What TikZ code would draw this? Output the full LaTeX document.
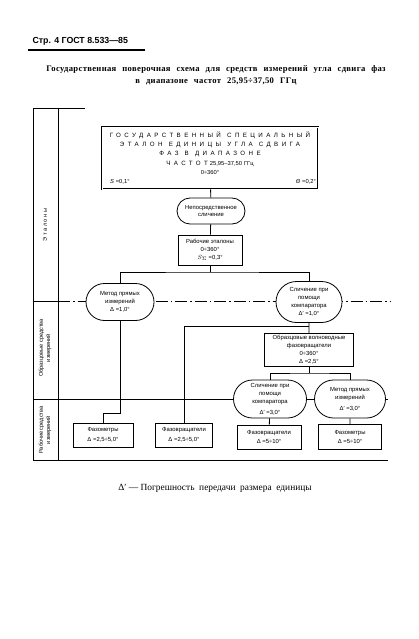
\documentclass[tikz,border=0pt]{standalone}
\usepackage{fontspec}
\setmainfont{Liberation Serif}
\setsansfont{Liberation Sans}
\newfontfamily\spaced[LetterSpace=55]{Liberation Sans}
\newfontfamily\titlefont[LetterSpace=4, WordSpace=2.4]{Liberation Serif}
\usetikzlibrary{shapes.misc}

\tikzset{
  etalon/.style={draw, double, double distance=0.8pt, thick, fill=white, align=center,
    text width=212pt, minimum height=62pt, inner sep=2pt,
    font=\sffamily\fontsize{5.8}{9.2}\selectfont},
  unit/.style={draw, thick, fill=white, align=center, inner sep=1pt,
    font=\sffamily\fontsize{5.9}{7.9}\selectfont},
  method/.style={unit, rounded rectangle},
  link/.style={thick},
  level/.style={rotate=90, align=center, font=\sffamily\fontsize{5.6}{7.2}\selectfont},
}

\begin{document}
\begin{tikzpicture}[x=1pt, y=-1pt]
  \useasboundingbox (0,0) rectangle (419,639);

  \node[anchor=west, font=\sffamily\bfseries\fontsize{8.8}{10}\selectfont] (page) at (29,41) {Стр. 4 ГОСТ 8.533—85};
  \draw[line width=1.3pt] (28,50) -- (145,50);
  \node[align=center, font=\titlefont\bfseries\fontsize{8.6}{12}\selectfont] (title) at (216,75)
    {Государственная поверочная схема для средств измерений угла сдвига фаз\\
     в диапазоне частот 25,95÷37,50 ГГц};

  % frame and levels
  \draw[thick] (33,108) -- (85,108);
  \draw[thick] (33,108) -- (33,460) -- (388,460);
  \draw[thick] (58,108) -- (58,460);
  \draw[thick] (33,301) -- (58,301);
  \draw[thick, dash pattern=on 12pt off 3pt on 1.5pt off 3pt] (58,301) -- (390,301);
  \draw[thick] (33,399) -- (388,399);
  \node[level] (lvl1) at (45,225) {Э т а л о н ы};
  \node[level] (lvl2) at (45,348) {Образцовые средства\\измерений};
  \node[level] (lvl3) at (45,430) {Рабочие средства\\измерений};

  \node[etalon] (etalon) at (210,158)
    {{\spaced\fontsize{6.2}{9.2}\selectfont ГОСУДАРСТВЕННЫЙ\quad СПЕЦИАЛЬНЫЙ\\
      ЭТАЛОН\quad ЕДИНИЦЫ\quad УГЛА\quad СДВИГА\\
      ФАЗ\quad В\quad ДИАПАЗОНЕ\\
      ЧАСТОТ} 25,95–37,50 ГГц\\
     0÷360°\\
     \hspace*{6pt}\textit{S} =0,1°\hfill\textit{Θ} =0,2°\hspace*{16pt}};
  \node[method, minimum width=70pt, minimum height=26pt] (sravn) at (211,211)
    {Непосредственное\\сличение};
  \node[unit, minimum width=64pt, minimum height=30pt] (rabet) at (210,250)
    {Рабочие эталоны\\0÷360°\\$S_\Sigma$ =0,3°};

  \node[method, minimum width=70pt, minimum height=37pt] (metod1) at (120,302)
    {Метод прямых\\измерений\\Δ =1,0°};
  \node[method, minimum width=68pt, minimum height=41pt] (komp1) at (309,302)
    {Сличение при\\помощи\\компаратора\\Δ′ =1,0°};
  \node[unit, minimum width=89pt, minimum height=33pt] (obrfaz) at (309,350)
    {Образцовые волноводные\\фазовращатели\\0÷360°\\Δ =2,5°};
  \node[method, minimum width=75pt, minimum height=38pt] (komp2) at (270,399)
    {Сличение при\\помощи\\компаратора\\[3pt]Δ′ =3,0°};
  \node[method, minimum width=73pt, minimum height=38pt] (metod2) at (350,399)
    {Метод прямых\\измерений\\[3pt]Δ′ =3,0°};

  \node[unit, minimum width=60pt, minimum height=24pt] (fazom1) at (103,435)
    {Фазометры\\[2pt]Δ =2,5÷5,0°};
  \node[unit, minimum width=57pt, minimum height=24pt] (fazvr1) at (184,435)
    {Фазовращатели\\[2pt]Δ =2,5÷5,0°};
  \node[unit, minimum width=64pt, minimum height=24pt] (fazvr2) at (269,437)
    {Фазовращатели\\[2pt]Δ =5÷10°};
  \node[unit, minimum width=63pt, minimum height=25pt] (fazom2) at (350,437)
    {Фазометры\\[2pt]Δ =5÷10°};

  \coordinate (br1) at (210,272);
  \coordinate (br2) at (309,326);
  \coordinate (br3) at (309,373);
  \coordinate (jog1) at (120,413);

  \draw[link] (etalon) -- (sravn);
  \draw[link] (sravn) -- (rabet);
  \draw[link] (rabet) -- (br1);
  \draw[link] (metod1) |- (br1) -| (komp1);
  \draw[link] (metod1) -- (jog1) -| (fazom1);
  \draw[link] (komp1) -- (obrfaz);
  \draw[link] (br2) -| (fazvr1);
  \draw[link] (obrfaz) -- (br3);
  \draw[link] (komp2) |- (br3) -| (metod2);
  \draw[link] (komp2) -- (fazvr2);
  \draw[link] (metod2) -- (fazom2);

  \node[font=\fontsize{9.4}{10}\selectfont] (note) at (215,488)
    {Δ′ — Погрешность\ \ передачи\ \ размера\ \ единицы};
\end{tikzpicture}
\end{document}
